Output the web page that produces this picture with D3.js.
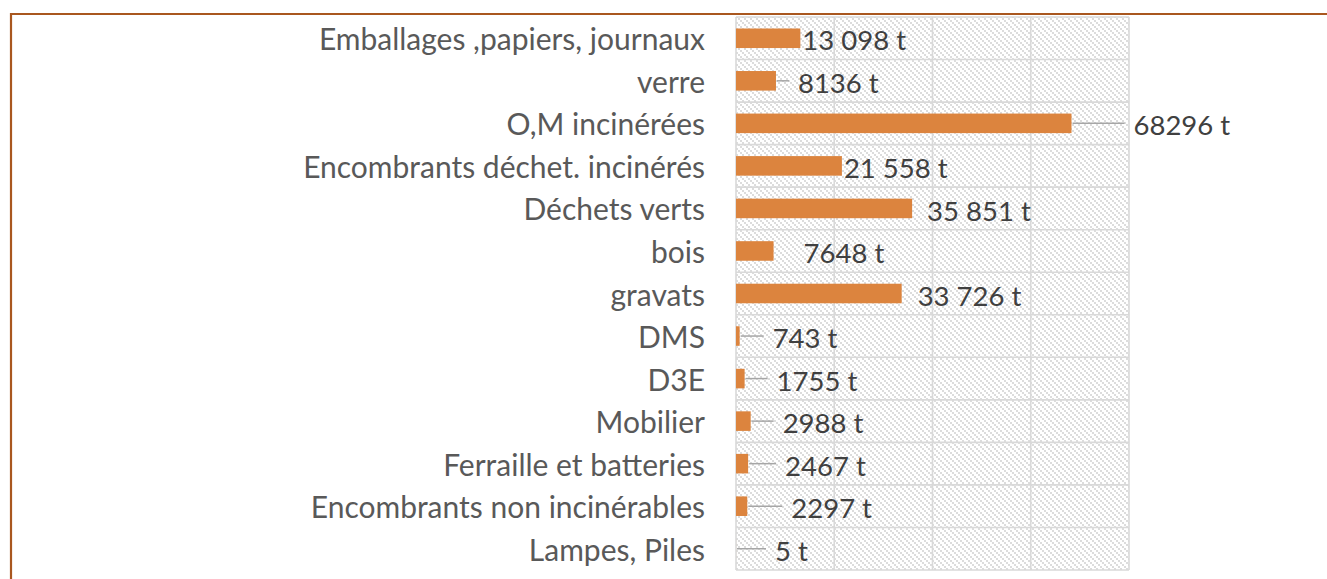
<!DOCTYPE html>
<html>
<head>
<meta charset="utf-8">
<script src="https://cdn.jsdelivr.net/npm/d3@7"></script>
<style>
  body { margin: 0; background: #fff; }
  svg { display: block; }
</style>
</head>
<body>
<svg id="chart"></svg>
<script>
// Tonnages collectés par filière
const categories = [
  "Emballages ,papiers, journaux", "verre", "O,M incinérées",
  "Encombrants déchet. incinérés", "Déchets verts", "bois", "gravats",
  "DMS", "D3E", "Mobilier", "Ferraille et batteries",
  "Encombrants non incinérables", "Lampes, Piles"
];
const tonnes = [13098, 8136, 68296, 21558, 35851, 7648, 33726, 743, 1755, 2988, 2467, 2297, 5];
const valueLabels = ["13 098 t", "8136 t", "68296 t", "21 558 t", "35 851 t", "7648 t", "33 726 t",
  "743 t", "1755 t", "2988 t", "2467 t", "2297 t", "5 t"];
const xTicks = [0, 20000, 40000, 60000, 80000];

// where the labels were dragged to (px after bar end), and whether a leader line shows
const labelShift = [2, 22, 62, 2, 15, 30, 16, 33, 32, 32, 37, 44, 39];
const showLeader = [false, true, true, false, false, false, false, true, true, true, true, true, true];

const W = 1327, H = 579;
const plot = { left: 736, right: 1129, top: 17, bottom: 570 };
const font = "Lato, 'Open Sans', sans-serif";

const svg = d3.select("#chart").attr("width", W).attr("height", H);

// hatch fill of the plot area
const defs = svg.append("defs");
const pat = defs.append("pattern").attr("id", "hatch")
  .attr("patternUnits", "userSpaceOnUse").attr("width", 6).attr("height", 6);
pat.append("rect").attr("width", 6).attr("height", 6).attr("fill", "#fff");
[0, 2, 4].forEach(k => pat.append("rect").attr("x", k).attr("y", k)
  .attr("width", 2).attr("height", 2).attr("fill", "#dcdcdc"));

// brown frame (top + left)
svg.append("path")
  .attr("d", `M11,${H} L11,14 L${W},14`)
  .attr("fill", "none").attr("stroke", "#a9571f").attr("stroke-width", 2.2);

const x = d3.scaleLinear().domain([0, 80000]).range([plot.left, plot.right]);
const y = d3.scaleBand().domain(categories).range([plot.top, plot.bottom])
  .paddingInner(0.54).paddingOuter(0.27);
const step = y.step();

svg.append("rect")
  .attr("x", plot.left).attr("y", plot.top)
  .attr("width", plot.right - plot.left).attr("height", plot.bottom - plot.top)
  .attr("fill", "url(#hatch)");

// grid
const grid = svg.append("g").attr("stroke", "#d9d9d9").attr("stroke-width", 1.6);
grid.selectAll("line.v").data(xTicks).join("line").attr("class", "v")
  .attr("x1", d => x(d)).attr("x2", d => x(d))
  .attr("y1", plot.top).attr("y2", plot.bottom);
const rowEdges = categories.map(c => y(c) - y.paddingInner() * step / 2).concat([plot.bottom]);
grid.selectAll("line.h").data(rowEdges).join("line").attr("class", "h")
  .attr("x1", plot.left).attr("x2", plot.right)
  .attr("y1", d => d).attr("y2", d => d);

// bars
svg.append("g").selectAll("rect").data(categories).join("rect")
  .attr("x", x(0))
  .attr("y", c => y(c))
  .attr("width", (c, i) => x(tonnes[i]) - x(0))
  .attr("height", y.bandwidth())
  .attr("fill", "#dc843e");

// category labels (y axis)
const yAxis = svg.append("g")
  .attr("transform", `translate(${plot.left - 31},0)`)
  .call(d3.axisLeft(y).tickSize(0).tickPadding(0));
yAxis.select(".domain").remove();
yAxis.selectAll("text")
  .attr("font-family", font).attr("font-size", 30)
  .attr("fill", "#595959").attr("dy", "0.4em")
  .attr("x", 0);

// leader lines + value labels
const cy = c => y(c) + y.bandwidth() / 2;
svg.append("g").selectAll("line").data(categories.filter((c, i) => showLeader[i])).join("line")
  .attr("x1", c => x(tonnes[categories.indexOf(c)]) + 1)
  .attr("x2", c => x(tonnes[categories.indexOf(c)]) + labelShift[categories.indexOf(c)] - 9)
  .attr("y1", cy).attr("y2", cy)
  .attr("stroke", "#a6a6a6").attr("stroke-width", 1.5);

svg.append("g").selectAll("text").data(categories).join("text")
  .attr("x", (c, i) => x(tonnes[i]) + labelShift[i])
  .attr("y", cy).attr("dy", "0.44em")
  .attr("font-family", font).attr("font-size", 27.5).attr("fill", "#404040")
  .text((c, i) => valueLabels[i]);
</script>
</body>
</html>
